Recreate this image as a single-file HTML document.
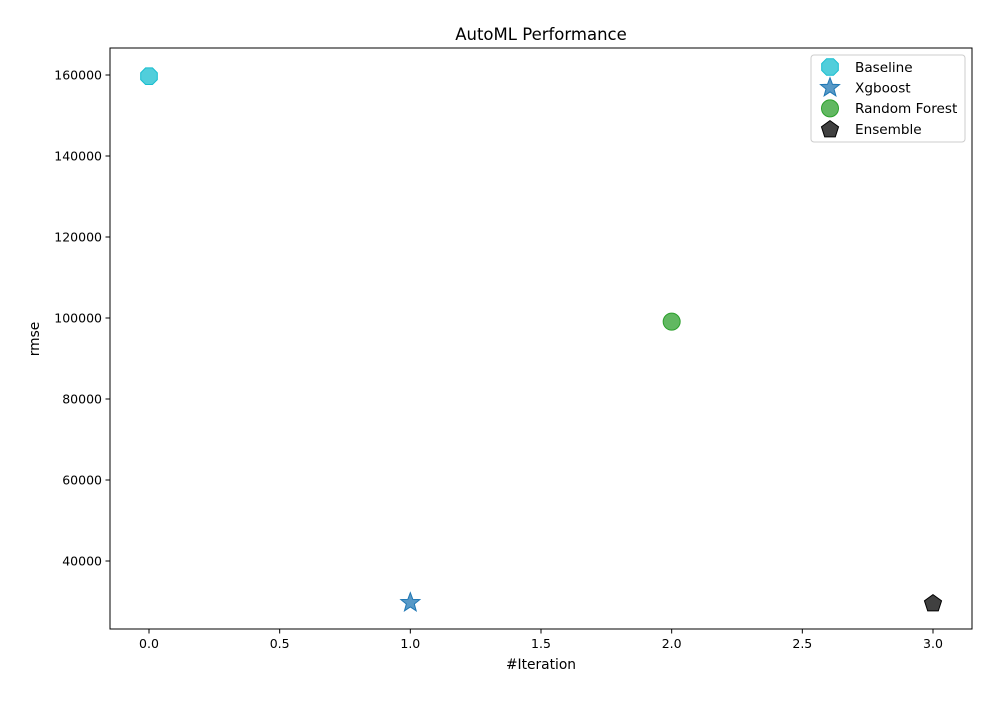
<!DOCTYPE html>
<html><head><meta charset="utf-8"><style>
body{margin:0;background:#fff;font-family:"Liberation Sans","DejaVu Sans",sans-serif}
</style></head><body>
<svg id="chart" width="1000" height="700" xmlns="http://www.w3.org/2000/svg" font-family="DejaVu Sans, Liberation Sans, sans-serif">
<rect width="1000" height="700" fill="#fff"/>
<text x="541" y="40" font-size="16.5" text-anchor="middle">AutoML Performance</text>
<text x="541" y="669" font-size="13.8" text-anchor="middle">#Iteration</text>
<text transform="translate(39,339) rotate(-90)" font-size="13.8" text-anchor="middle">rmse</text>
<g id="ticks"></g>
<g id="marks"></g>
<rect x="110" y="48" width="862" height="581" fill="none" stroke="#000" stroke-width="1"/>
<g id="legend"></g>
</svg>
<script>
const categories = ["Baseline","Xgboost","Random Forest","Ensemble"];
const xValues = [0,1,2,3];
const yValues = [159700,29700,99100,29600];
const colors = ["#17becf","#1f77b4","#2ca02c","#000000"];
const shapes = ["octagon","star","circle","pentagon"];
const xTicks = [0,0.5,1,1.5,2,2.5,3];
const xTickLabels = ["0.0","0.5","1.0","1.5","2.0","2.5","3.0"];
const yTicks = [40000,60000,80000,100000,120000,140000,160000];
const yTickLabels = ["40000","60000","80000","100000","120000","140000","160000"];

const NS="http://www.w3.org/2000/svg";
function xs(v){return 149+v*(933-149)/3;}
function ys(v){return 561-(v-40000)*(561-75)/120000;}
function mk(tag,attrs,parent){const e=document.createElementNS(NS,tag);for(const k in attrs)e.setAttribute(k,attrs[k]);parent.appendChild(e);return e;}
function poly(n,r,cx,cy,rot,inner){
  const pts=[];const m=inner?2*n:n;
  for(let i=0;i<m;i++){const a=rot+i*2*Math.PI/m;const rr=inner&&i%2?r*inner:r;pts.push((cx+rr*Math.sin(a)).toFixed(2)+","+(cy-rr*Math.cos(a)).toFixed(2));}
  return pts.join(" ");
}
function marker(shape,cx,cy,color,parent){
  let e;
  if(shape==="circle") e=mk("circle",{cx:cx,cy:cy,r:8.5},parent);
  else if(shape==="octagon") e=mk("polygon",{points:poly(8,9,cx,cy,Math.PI/8)},parent);
  else if(shape==="star") e=mk("polygon",{points:poly(5,10,cx,cy,0,0.42)},parent);
  else e=mk("polygon",{points:poly(5,9,cx,cy+0.5,0)},parent);
  e.setAttribute("fill",color);e.setAttribute("fill-opacity","0.75");
  e.setAttribute("stroke",color);e.setAttribute("stroke-width","1");
  return e;
}
const tg=document.getElementById("ticks");
xTicks.forEach((t,i)=>{
  const l=mk("line",{x1:xs(t),x2:xs(t),y1:629,y2:633.5,stroke:"#000"},tg);
  
  
  const tx=mk("text",{x:xs(t),y:648,"font-size":"12.5","text-anchor":"middle"},tg);tx.textContent=xTickLabels[i];
  
  
});
yTicks.forEach((t,i)=>{
  const l=mk("line",{x1:105.5,x2:110,y1:ys(t),y2:ys(t),stroke:"#000"},tg);
  
  
  const tx=mk("text",{x:102,y:ys(t)+4.5,"font-size":"12.5","text-anchor":"end"},tg);tx.textContent=yTickLabels[i];
  
  
});
const mg=document.getElementById("marks");
categories.forEach((c,i)=>{
  const e=marker(shapes[i],xs(xValues[i]),ys(yValues[i]),colors[i],mg);
  
  
});
const lg=document.getElementById("legend");
const box=mk("rect",{x:811,y:55,width:154,height:87,rx:3,fill:"#fff","fill-opacity":"0.8",stroke:"#ccc"},lg);


categories.forEach((c,i)=>{
  const y=67+i*20.7;
  const e=marker(shapes[i],830,y,colors[i],lg);
  
  
  const t=mk("text",{x:855,y:y+4.8,"font-size":"13.6"},lg);t.textContent=c;
  
  
});
</script>
</body></html>
